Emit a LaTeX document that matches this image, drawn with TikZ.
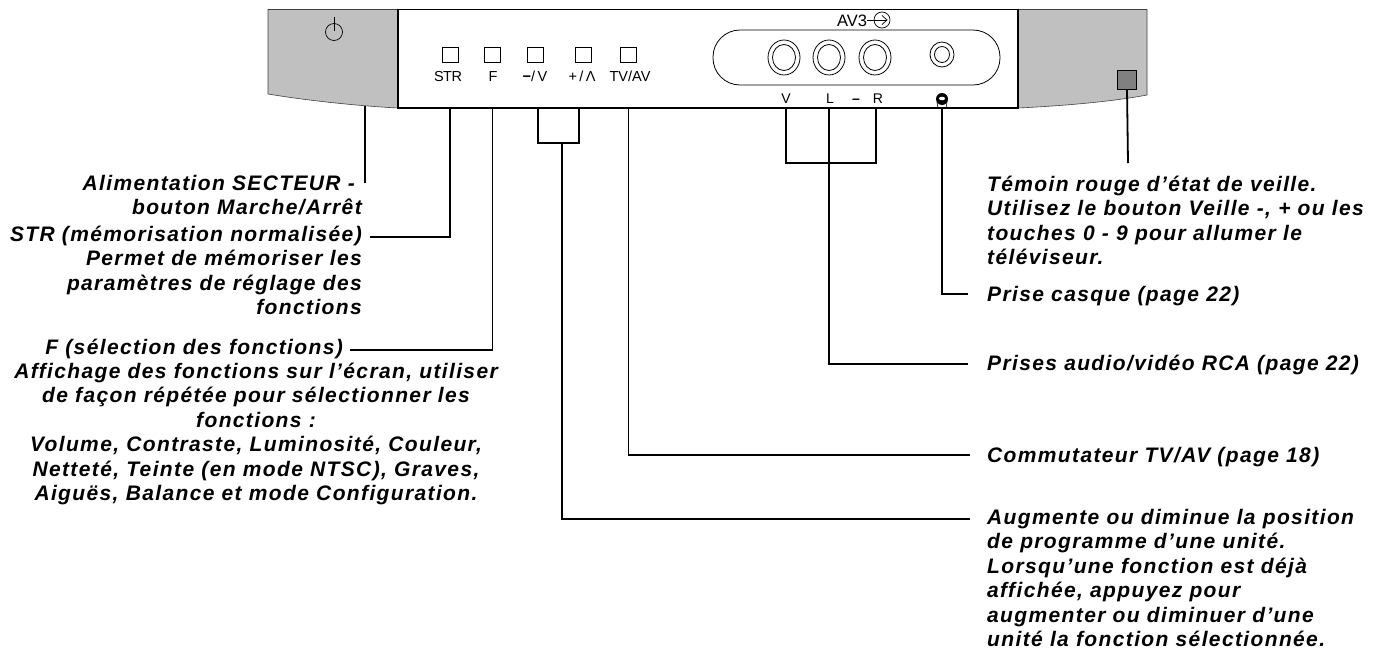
\documentclass[tikz,border=0pt]{standalone}
\usepackage{fontspec}
\setmainfont{Liberation Sans}
\newfontfamily\callfont{Liberation Sans}[LetterSpace=6.5]
\definecolor{panelgray}{HTML}{C0C0C0}
\definecolor{ledgray}{HTML}{808080}
\begin{document}
\begin{tikzpicture}[x=1pt,y=-1pt,
  conn/.style={line width=1.8pt},
  callout/.style={font=\callfont\bfseries\itshape\fontsize{21}{24.5}\selectfont, inner sep=0pt},
  btn/.style={draw, line width=0.8pt, minimum width=16pt, minimum height=15pt, inner sep=0pt},
  btnlbl/.style={font=\fontsize{14.5}{14.5}\selectfont, inner sep=0pt, anchor=base},
  jacklbl/.style={font=\fontsize{14}{14}\selectfont, inner sep=0pt, anchor=base},
  jack/.style={line width=0.8pt}]
\useasboundingbox (0,0) rectangle (1389,662);

% side panels
\fill[panelgray] (268,9.5) -- (398,9.5) -- (398,108) .. controls (360,106) and (310,101) .. (268,94) -- cycle;
\draw[line width=0.6pt, black!75] (398,9.5) -- (268,9.5) -- (268,94) .. controls (310,101) and (360,106) .. (398,108);
\fill[panelgray] (1018,9.5) -- (1147,9.5) -- (1147,95) .. controls (1110,102) and (1060,106) .. (1018,108) -- cycle;
\draw[line width=0.6pt, black!75] (1018,9.5) -- (1147,9.5) -- (1147,95) .. controls (1110,102) and (1060,106) .. (1018,108);

% central panel
\draw[line width=1.8pt, fill=white] (398,9.5) rectangle (1018,108);
\coordinate (pbot) at (0,108);

% power symbol
\draw[line width=0.7pt] (334,32) circle[radius=8.5pt];
\draw[line width=0.7pt] (334,17) -- (334,31);

% buttons
\node[btn] (bSTR) at (450,54.5) {};
\node[btn] (bF) at (492.5,54.5) {};
\node[btn] (bDn) at (535,54.5) {};
\node[btn] (bUp) at (583.5,54.5) {};
\node[btn] (bTV) at (628.5,54.5) {};
\node[btnlbl] (lSTR) at (448,81) {S\kern-0.5pt T\kern-0.5pt R};
\node[btnlbl] (lF) at (493,81) {F};
\node[btnlbl] (lDn) at (535,81) {\textbf{−}/\,V};
\node[btnlbl] (lUp) at (582,81) {+\,/\,Λ};
\node[btnlbl] (lTV) at (630,81) {TV/AV};

% AV3 label
\node[font=\fontsize{16.5}{16.5}\selectfont, inner sep=0pt, anchor=base] (lAV3) at (852,26) {AV3};
\node[draw, circle, line width=0.7pt, minimum size=16pt, inner sep=0pt] (avc) at (882,20) {};
\draw[line width=0.7pt] (867,20) -- (887,20);
\draw[line width=0.7pt] (882,15.5) -- (887,20) -- (882,24.5);

% jack panel
\draw[jack, rounded corners=27pt] (713,30) rectangle (1000,85);
\foreach \n/\x in {jV/784, jL/829, jR/875}{
  \draw[jack] (\x,57.5) ellipse[x radius=16pt, y radius=17.5pt];
  \draw[jack] (\x,57.5) ellipse[x radius=11.5pt, y radius=13pt];
  \coordinate (\n) at (\x,57.5);
}
\coordinate (jH) at (942,54.5);
\draw[jack] (jH) ellipse[x radius=12pt, y radius=12.5pt];
\draw[jack] (jH) ellipse[x radius=7.5pt, y radius=8pt];

\node[jacklbl] (lV) at (786,103.5) {V};
\node[jacklbl] (lL) at (830,103.5) {L};
\node[jacklbl, font=\bfseries\fontsize{14}{14}\selectfont] (lM) at (856,103.5) {–};
\node[jacklbl] (lR) at (878,103.5) {R};
% headphone icon
\coordinate (hp) at (942,99);
\fill (hp) ellipse[x radius=6pt, y radius=6pt];
\fill[white] ([yshift=0.5pt]hp) ellipse[x radius=3pt, y radius=1.8pt];
\draw[line width=0.6pt] (937,102) -- (938,108);
\draw[line width=0.6pt] (947,102) -- (946,108);

% LED
\node[draw, line width=0.8pt, fill=ledgray, minimum width=19pt, minimum height=19pt, inner sep=0pt] (led) at (1127,79.5) {};

% callout texts (base anchor = baseline of the last line)
\node[callout, align=right, anchor=base east] (tPow) at (362,214.5) {Alimentation SECTEUR -\rule{7pt}{0pt}\\bouton Marche/Arrêt};
\node[callout, align=right, anchor=base east] (tSTR) at (362,314.5) {STR (mémorisation normalisée)\\Permet de mémoriser les\\paramètres de réglage des\\fonctions};
\node[callout, anchor=base east] (tF) at (343,354) {F (sélection des fonctions)};
\node[callout, align=center, anchor=base] (tFd) at (256,500.5) {Affichage des fonctions sur l’écran, utiliser\\de façon répétée pour sélectionner les\\fonctions :\\Volume, Contraste, Luminosité, Couleur,\\Netteté, Teinte (en mode NTSC), Graves,\\Aiguës, Balance et mode Configuration.};

\node[callout, align=left, anchor=base west] (tLED) at (987,264.5) {Témoin rouge d’état de veille.\\Utilisez le bouton Veille -, + ou les\\touches 0 - 9 pour allumer le\\téléviseur.};
\node[callout, anchor=base west] (tHP) at (987,301) {Prise casque (page 22)};
\node[callout, anchor=base west] (tAV) at (987,370) {Prises audio/vidéo RCA (page 22)};
\node[callout, anchor=base west] (tTV) at (987,462) {Commutateur TV/AV (page 18)};
\node[callout, align=left, anchor=base west] (tUD) at (987,646.5) {Augmente ou diminue la position\\de programme d’une unité.\\Lorsqu’une fonction est déjà\\affichée, appuyez pour\\augmenter ou diminuer d’une\\unité la fonction sélectionnée.};

% connector end points
\coordinate (ePow) at (365,183);
\coordinate (eSTR) at (370,237);
\coordinate (eF) at (350,350);
\coordinate (eUD) at (970,519);
\coordinate (eTV) at (970,455);
\coordinate (eAV) at (968,364);
\coordinate (eHP) at (968,294);
\coordinate (eLED) at (1128,163);

% connectors
\draw[conn] (365,105.5) -- (ePow);
\draw[conn] (bSTR |- pbot) |- (eSTR);
\draw[conn] (bF |- pbot) |- (eF);
\coordinate (brDn) at (538,108);
\coordinate (brUp) at (579,108);
\draw[conn] (brDn) -- (538,143) -- (579,143) -- (brUp);
\draw[conn] (562,143) |- (eUD);
\draw[conn] (bTV |- pbot) |- (eTV);
\draw[conn] (786,108) -- (786,163) -- (876,163) -- (876,108);
\draw[conn] (829,108) |- (eAV);
\draw[conn] (hp |- pbot) |- (eHP);
\draw[conn] (led.south) -- (eLED);
\end{tikzpicture}
\end{document}
